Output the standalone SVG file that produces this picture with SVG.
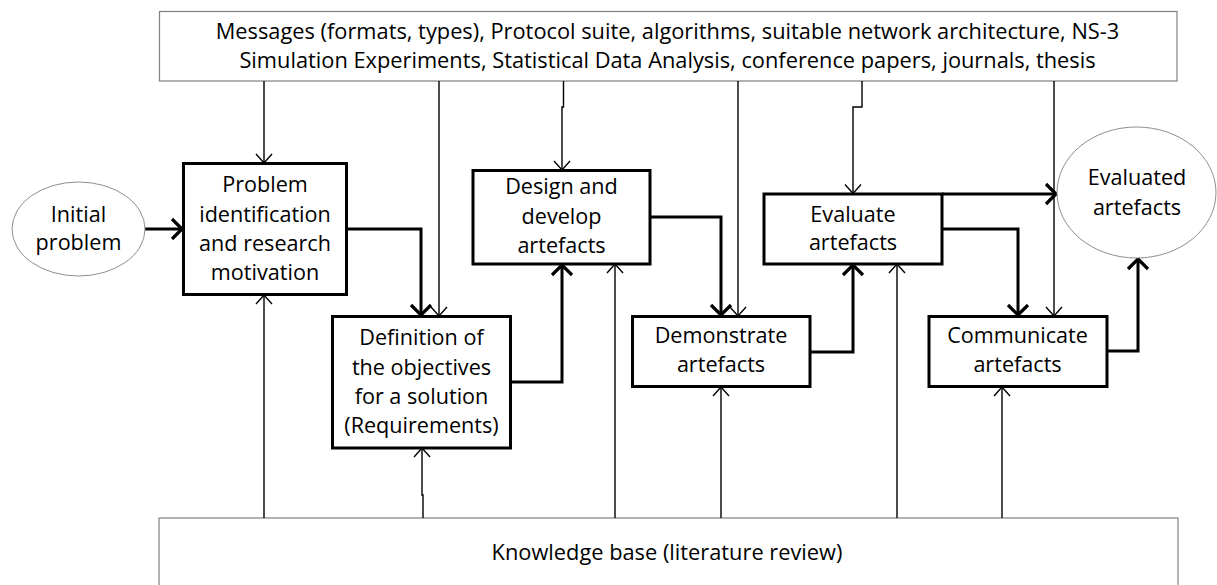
<svg xmlns="http://www.w3.org/2000/svg" width="1217" height="585" viewBox="0 0 1217 585">
  <style>
    .box { fill: #ffffff; stroke: #000000; stroke-width: 3; }
    .frame { fill: #ffffff; stroke: #808080; stroke-width: 1.2; }
    .oval { fill: #ffffff; stroke: #808080; stroke-width: 0.9; }
    .thick { fill: none; stroke: #000000; stroke-width: 3; marker-end: url(#headBold); }
    .thin { fill: none; stroke: #000000; stroke-width: 1.4; marker-end: url(#headThin); }
    text { font-family: "Open Sans", "Liberation Sans", sans-serif; fill: #000000; text-anchor: middle; }
    .lbl { font-size: 21.6px; }
    .src { font-size: 21.8px; }
  </style>
  <defs>
    <marker id="headBold" markerUnits="userSpaceOnUse" markerWidth="30" markerHeight="30" viewBox="-15 -15 30 30" refX="1" refY="0" orient="auto" overflow="visible">
      <path d="M-10,-10 L0,0 L-10,10" fill="none" stroke="#000000" stroke-width="3.2"/>
    </marker>
    <marker id="headThin" markerUnits="userSpaceOnUse" markerWidth="30" markerHeight="30" viewBox="-15 -15 30 30" refX="0" refY="0" orient="auto" overflow="visible">
      <path d="M-9,-8 L0,0 L-9,8" fill="none" stroke="#000000" stroke-width="1.4"/>
    </marker>
  </defs>

  <!-- resources box at the top -->
  <g id="resources">
    <rect class="frame" x="159.5" y="11.5" width="1017.5" height="69.5"/>
    <text class="src" x="667.5" y="39">Messages (formats, types), Protocol suite, algorithms, suitable network architecture, NS-3</text>
    <text class="src" x="667.5" y="68">Simulation Experiments, Statistical Data Analysis, conference papers, journals, thesis</text>
  </g>

  <!-- knowledge base box at the bottom -->
  <g id="knowledge-base">
    <rect class="frame" x="159" y="518" width="1019" height="100"/>
    <text class="src" x="667" y="560">Knowledge base (literature review)</text>
  </g>

  <!-- connectors -->
  <g id="connectors">
    <!-- from the resources box -->
    <path class="thin" d="M264,81 V163"/>
    <path class="thin" d="M439,81 V316"/>
    <path class="thin" d="M563.5,81 V107 H562 V170"/>
    <path class="thin" d="M738,81 V316"/>
    <path class="thin" d="M862,81 V107 H853 V193.5"/>
    <path class="thin" d="M1054,81 V316"/>
    <!-- from the knowledge base -->
    <path class="thin" d="M264,518 V295"/>
    <path class="thin" d="M423,518 V495 H422 V448"/>
    <path class="thin" d="M615,518 V264"/>
    <path class="thin" d="M721,518 V387"/>
    <path class="thin" d="M897,518 V264"/>
    <path class="thin" d="M1002,518 V387"/>
    <!-- process flow -->
    <path class="thick" d="M145,229 H183"/>
    <path class="thick" d="M347,229 H421 V316"/>
    <path class="thick" d="M511,382 H562 V264"/>
    <path class="thick" d="M650,217 H721 V316"/>
    <path class="thick" d="M810,352 H853 V264"/>
    <path class="thick" d="M942,194 H1057"/>
    <path class="thick" d="M942,229 H1018 V316"/>
    <path class="thick" d="M1107,351 H1138 V258"/>
  </g>

  <g id="initial-problem">
    <ellipse class="oval" cx="78.5" cy="229" rx="66.5" ry="47"/>
    <text class="lbl" x="78.5" y="222">Initial</text>
    <text class="lbl" x="78.5" y="250">problem</text>
  </g>

  <g id="problem-identification">
    <rect class="box" x="183.5" y="163.5" width="163" height="131"/>
    <text class="lbl" x="265" y="192">Problem</text>
    <text class="lbl" x="265" y="222">identification</text>
    <text class="lbl" x="265" y="251">and research</text>
    <text class="lbl" x="265" y="280">motivation</text>
  </g>

  <g id="define-objectives">
    <rect class="box" x="332.5" y="316.5" width="178" height="131.5"/>
    <text class="lbl" x="421.5" y="345">Definition of</text>
    <text class="lbl" x="421.5" y="375">the objectives</text>
    <text class="lbl" x="421.5" y="404">for a solution</text>
    <text class="lbl" x="421.5" y="433">(Requirements)</text>
  </g>

  <g id="design-develop">
    <rect class="box" x="473" y="170.5" width="177" height="93.5"/>
    <text class="lbl" x="561.5" y="194">Design and</text>
    <text class="lbl" x="561.5" y="224">develop</text>
    <text class="lbl" x="561.5" y="253">artefacts</text>
  </g>

  <g id="demonstrate">
    <rect class="box" x="632.5" y="316.5" width="177.5" height="70"/>
    <text class="lbl" x="721" y="343">Demonstrate</text>
    <text class="lbl" x="721" y="372">artefacts</text>
  </g>

  <g id="evaluate">
    <rect class="box" x="764" y="194" width="178" height="70"/>
    <text class="lbl" x="853" y="222">Evaluate</text>
    <text class="lbl" x="853" y="250">artefacts</text>
  </g>

  <g id="communicate">
    <rect class="box" x="929" y="316.5" width="178" height="70"/>
    <text class="lbl" x="1017.5" y="343">Communicate</text>
    <text class="lbl" x="1017.5" y="372">artefacts</text>
  </g>

  <g id="evaluated-artefacts">
    <ellipse class="oval" cx="1136.5" cy="192.5" rx="79.5" ry="65.5"/>
    <text class="lbl" x="1137" y="185">Evaluated</text>
    <text class="lbl" x="1137" y="215">artefacts</text>
  </g>
</svg>
